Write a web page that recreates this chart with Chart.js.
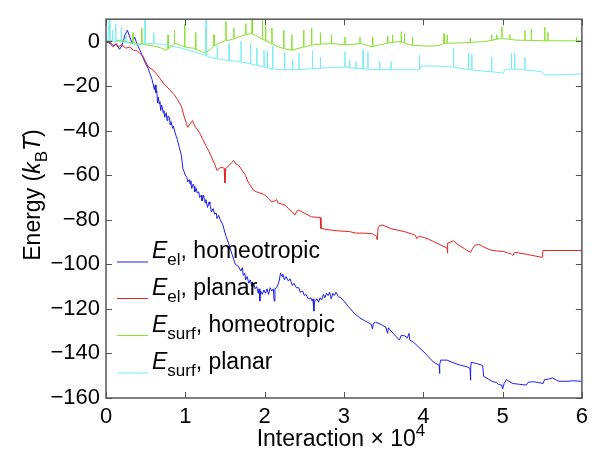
<!DOCTYPE html>
<html>
<head>
<meta charset="utf-8">
<script src="https://cdn.jsdelivr.net/npm/chart.js@4.4.1/dist/chart.umd.min.js"></script>
<style>
  html, body { margin: 0; padding: 0; background: #fff; }
  #wrap { width: 594px; height: 454px; }
</style>
</head>
<body>
<div id="wrap"><canvas id="energy" width="594" height="454"></canvas></div>
<script>
"use strict"
// Tick values
const xTicks = [0, 1, 2, 3, 4, 5, 6];
const yTicks = [0, -20, -40, -60, -80, -100, -120, -140, -160];

// E_el, homeotropic (blue)
const elHomeoX = [0, 0.05, 0.1, 0.13, 0.17, 0.2, 0.24, 0.27, 0.3, 0.33, 0.36, 0.38, 0.4, 0.43, 0.46, 0.5, 0.53, 0.55, 0.58, 0.61,
  0.62, 0.63, 0.64, 0.65, 0.66, 0.67, 0.68, 0.69, 0.7, 0.71, 0.72, 0.73, 0.74, 0.76, 0.77, 0.78, 0.8, 0.81, 0.82, 0.84,
  0.85, 0.88, 0.9, 0.92, 0.95, 0.97, 1.0, 1.02, 1.03, 1.05, 1.06, 1.07, 1.08, 1.1, 1.11, 1.12, 1.14, 1.15, 1.17, 1.18,
  1.2, 1.21, 1.23, 1.25, 1.26, 1.28, 1.3, 1.31, 1.33, 1.35, 1.37, 1.39, 1.4, 1.42, 1.44, 1.47, 1.51, 1.55, 1.59, 1.63,
  1.67, 1.7, 1.72, 1.73, 1.75, 1.76, 1.78, 1.8, 1.82, 1.84, 1.86, 1.88, 1.9, 1.92, 1.93, 1.94, 1.95, 1.97, 1.99, 2.01,
  2.03, 2.05, 2.07, 2.09, 2.11, 2.12, 2.13, 2.15, 2.18, 2.2, 2.22, 2.23, 2.25, 2.27, 2.3, 2.32, 2.35, 2.37, 2.4, 2.43,
  2.45, 2.48, 2.5, 2.52, 2.55, 2.58, 2.6, 2.61, 2.62, 2.63, 2.66, 2.68, 2.7, 2.72, 2.74, 2.76, 2.78, 2.8, 2.82, 2.84,
  2.86, 2.88, 2.9, 2.93, 2.96, 3.0, 3.05, 3.13, 3.2, 3.27, 3.34, 3.36, 3.37, 3.4, 3.47, 3.53, 3.55, 3.56, 3.62, 3.7,
  3.72, 3.76, 3.8, 3.82, 3.83, 3.88, 3.95, 4.01, 4.05, 4.13, 4.2, 4.205, 4.21, 4.22, 4.3, 4.4, 4.47, 4.55, 4.59, 4.595,
  4.6, 4.605, 4.67, 4.74, 4.75, 4.76, 4.82, 4.88, 4.92, 4.95, 4.99, 5.0, 5.02, 5.05, 5.08, 5.13, 5.2, 5.3, 5.32, 5.38,
  5.45, 5.51, 5.53, 5.58, 5.63, 5.68, 5.71, 5.8, 5.9, 6.0];
const elHomeoY = [0, -0.5, -2, -1, -3.5, -2, 3, 5, 2, -1, 2, 0, -2, -4, -6.7, -10, -12, -14, -17, -21.6,
  -19.5, -23, -22, -27.6, -25, -28, -27, -31, -28.5, -29.5, -32, -31, -34, -32, -35.5, -33.5, -34, -37.5, -36, -39,
  -38, -42, -44, -47, -51, -57, -60, -61, -63, -62, -64, -62.5, -66, -64, -65, -67.5, -66, -68, -67.5, -70,
  -69, -71.5, -69, -72.5, -71, -74.5, -72, -73, -76.5, -75, -77.5, -77, -79.5, -78, -80, -82, -87, -91, -95.6, -100,
  -101, -103, -101.5, -105, -104, -107, -105.5, -108.5, -107, -110, -108.5, -111, -110, -113, -111, -116.5, -112, -113.5, -111.5, -113,
  -111, -113.5, -110.5, -112, -111, -116.5, -111, -110.5, -108, -104, -105.5, -104.5, -107, -105.5, -107.5, -106.5, -109.5, -108.5, -110.5, -110.5,
  -112.5, -112, -114, -113.5, -115.5, -115, -116.5, -115.5, -121, -116.5, -115.5, -117, -115, -116, -113.5, -115, -113, -114, -112.5, -115.5,
  -113, -114, -112.5, -114.5, -115, -116.5, -118.7, -122, -124, -125.5, -126.8, -129, -126.5, -126, -127, -128.3, -131, -128.5, -131, -134,
  -132, -132, -133, -131, -134, -135, -137.5, -139.4, -141, -143.9, -145.3, -149, -145, -143, -143, -144.5, -145.3, -146, -146.7, -152,
  -146.5, -144, -144.5, -145.3, -145.5, -150.2, -151.5, -152.7, -153, -154, -154.2, -156, -153.5, -151.7, -152.5, -153.5, -153.8, -154.2, -153, -152.7,
  -153, -153.5, -151.7, -151.5, -151, -152, -152.5, -152.5, -152.3, -152.5];

// E_el, planar (red)
const elPlanarX = [0, 0.05, 0.09, 0.12, 0.15, 0.2, 0.25, 0.3, 0.35, 0.38, 0.42, 0.47, 0.5, 0.53, 0.58, 0.63, 0.68, 0.72, 0.76, 0.8,
  0.86, 0.9, 0.95, 0.98, 1.01, 1.03, 1.06, 1.09, 1.12, 1.15, 1.18, 1.22, 1.26, 1.3, 1.34, 1.37, 1.4, 1.43, 1.47, 1.49,
  1.5, 1.51, 1.55, 1.58, 1.61, 1.64, 1.675, 1.72, 1.76, 1.79, 1.82, 1.86, 1.9, 1.97, 2.01, 2.05, 2.09, 2.13, 2.15, 2.17,
  2.22, 2.26, 2.3, 2.35, 2.38, 2.41, 2.43, 2.5, 2.59, 2.7, 2.71, 2.8, 2.93, 3.07, 3.15, 3.25, 3.36, 3.41, 3.42, 3.43,
  3.45, 3.49, 3.59, 3.76, 3.85, 3.9, 3.92, 3.95, 4.05, 4.13, 4.2, 4.3, 4.305, 4.31, 4.38, 4.45, 4.52, 4.57, 4.6, 4.62,
  4.65, 4.7, 4.76, 4.84, 4.92, 5.01, 5.06, 5.11, 5.13, 5.15, 5.17, 5.3, 5.4, 5.5, 5.51, 6.0];
const elPlanarY = [0, -1, -2.4, -1, -2.5, -1.5, -3, -2.5, -4, -3.9, -5, -6.8, -9, -11.3, -12.5, -14.2, -16.5, -18.7, -20, -21.6,
  -23.9, -26, -29, -33, -36.4, -38.5, -37, -35.5, -38, -39.4, -41, -44, -46.8, -49.5, -52.7, -55, -57.9, -56.8, -56.4, -57,
  -63.5, -57, -55.7, -54.5, -53.5, -55, -55.7, -58, -60.1, -63, -64.6, -66.8, -67.5, -68.3, -69, -70.5, -72, -71.5, -71, -72.5,
  -73, -73.5, -75, -76.5, -77.9, -76, -75.7, -77, -78.7, -79, -83.9, -84.5, -85, -85.3, -86, -86, -86.3, -87.5, -89, -83.6,
  -82.6, -82.4, -84, -85.3, -86.3, -87, -88.5, -87.3, -88.5, -89.8, -91, -92.7, -95, -90.5, -89.5, -91.5, -93, -94.2, -94.5, -93,
  -91.5, -91, -92.2, -93.5, -94, -94.2, -94.8, -95.4, -96, -94.8, -94.7, -95.5, -96.2, -96.9, -93.8, -93.8];

// E_surf, homeotropic (green)
const surfHomeoX = [0, 0.05, 0.1, 0.15, 0.2, 0.25, 0.3, 0.34, 0.342, 0.345, 0.4, 0.45, 0.452, 0.455, 0.5, 0.6, 0.7, 0.76, 0.78, 0.782,
  0.785, 0.84, 0.86, 0.862, 0.865, 0.88, 0.94, 0.99, 0.992, 0.995, 1.05, 1.1, 1.13, 1.132, 1.135, 1.2, 1.26, 1.262, 1.265, 1.33,
  1.36, 1.362, 1.365, 1.42, 1.5, 1.51, 1.512, 1.515, 1.55, 1.61, 1.612, 1.615, 1.675, 1.76, 1.762, 1.765, 1.82, 1.84, 1.842, 1.845,
  1.9, 1.97, 1.972, 1.975, 2.01, 2.012, 2.015, 2.09, 2.092, 2.095, 2.17, 2.24, 2.242, 2.245, 2.34, 2.342, 2.345, 2.49, 2.492, 2.495,
  2.59, 2.592, 2.595, 2.7, 2.702, 2.705, 2.84, 2.842, 2.845, 2.95, 3.01, 3.012, 3.015, 3.1, 3.2, 3.202, 3.205, 3.3, 3.36, 3.362,
  3.365, 3.45, 3.55, 3.552, 3.555, 3.61, 3.612, 3.615, 3.67, 3.72, 3.722, 3.725, 3.76, 3.762, 3.765, 3.84, 3.86, 3.862, 3.865, 4.09,
  4.2, 4.26, 4.262, 4.265, 4.3, 4.302, 4.305, 4.5, 4.59, 4.592, 4.595, 4.76, 4.86, 4.862, 4.865, 4.925, 4.927, 4.93, 4.97, 4.99,
  4.992, 4.995, 5.09, 5.092, 5.095, 5.17, 5.28, 5.282, 5.285, 5.36, 5.362, 5.365, 5.53, 5.532, 5.535, 5.57, 5.572, 5.575, 5.75, 5.93,
  5.932, 5.935, 6.0];
const surfHomeoY = [0, 0.5, 0, 0.5, 0.5, 0, -0.5, -0.5, 4, -0.5, -1, -1.2, 6, -1.2, -1.5, -2, -3, -3.9, -3.5, 3,
  -3.3, -1.5, -1, 5, -1, -0.9, -1.8, -2.4, 8, -2.4, -2.8, -3, -3.5, 4, -3.6, -4.5, -5.3, 6, -5, -3,
  -2, 3, -2, -0.9, 0.3, 0.4, 9, 0.5, 0.5, 1.2, 6, 1.3, 2.1, 3, 8, 3, 3.6, 3.5, 10, 3.4,
  2.5, 1, 10, 1, 0.5, 7, 0.4, -1, 6, -1, -2.4, -3.2, 5, -3.3, -3.9, 3, -3.9, -2.5, 5, -2.5,
  -1.6, 6, -1.6, -1.2, 4, -1.2, -0.9, 3, -0.9, -1.3, -1.5, 2, -1.5, -1.3, -0.9, 2, -0.9, -1.8, -2.4, 2,
  -2.3, -1.5, -0.8, 2.5, -0.7, -0.5, 3, -0.4, -0.1, -0.3, 4.4, -0.3, -0.6, 3.5, -0.7, -1.6, -1.7, 2, -1.7, -2.1,
  -1.8, -0.9, 3.5, -0.9, -0.8, 3, -0.8, -0.6, -0.4, 1.5, -0.4, -0.1, 0.5, 3, 0.5, 1, 3, 1, 1.3, 1.3,
  6.5, 1.3, 1, 3, 1, 0.6, 0.5, 5, 0.5, 0.5, 5.5, 0.5, 0.3, 6.5, 0.3, 0.3, 4, 0.3, 0.3, 0.3,
  2, 0.3, 0.3];

// E_surf, planar (cyan)
const surfPlanarX = [0, 0.02, 0.04, 0.05, 0.08, 0.082, 0.085, 0.12, 0.122, 0.125, 0.19, 0.192, 0.195, 0.25, 0.252, 0.255, 0.41, 0.49, 0.492, 0.495,
  0.6, 0.602, 0.605, 0.7, 0.88, 1.0, 1.17, 1.26, 1.262, 1.265, 1.3, 1.4, 1.402, 1.405, 1.42, 1.55, 1.552, 1.555, 1.675, 1.7,
  1.702, 1.705, 1.82, 1.822, 1.825, 1.88, 1.9, 1.902, 1.905, 1.99, 1.992, 1.995, 2.03, 2.032, 2.035, 2.1, 2.102, 2.105, 2.17, 2.25,
  2.252, 2.255, 2.35, 2.352, 2.355, 2.43, 2.432, 2.435, 2.6, 2.602, 2.605, 2.68, 2.7, 2.702, 2.705, 2.9, 3.01, 3.012, 3.015, 3.07,
  3.072, 3.075, 3.15, 3.152, 3.155, 3.24, 3.242, 3.245, 3.3, 3.302, 3.305, 3.43, 3.45, 3.452, 3.455, 3.59, 3.592, 3.595, 3.95, 3.952,
  3.955, 3.97, 4.2, 4.34, 4.38, 4.382, 4.385, 4.57, 4.572, 4.575, 4.61, 4.612, 4.615, 4.86, 4.862, 4.865, 5.01, 5.03, 5.11, 5.112,
  5.115, 5.15, 5.152, 5.155, 5.28, 5.282, 5.285, 5.49, 5.53, 5.7, 6.0];
const surfPlanarY = [0, 0, 10, 0, 0, 5, 0, 0, 8, 0, -0.3, 6, -0.3, -0.5, 3, -0.5, -1.6, -1, 10, -1,
  -1, 4, -1, -1.2, -2.4, -3.5, -5.3, -6.3, 10, -6.3, -7, -7.8, -2, -7.8, -8, -8.5, -1, -8.5, -9, -9.2,
  0, -9.2, -10, -0.9, -10, -10.5, -10.7, -3, -10.7, -11.5, -3.9, -11.5, -11.8, -3.9, -11.8, -12.2, -2, -12.2, -12.7, -12.7,
  -5, -12.7, -12.7, -8, -12.7, -12.7, -5.3, -12.7, -12.2, -4, -12.2, -12, -12, -7, -12, -11.6, -11.5, -4.6, -11.5, -11.8,
  -8.3, -11.8, -12, -9, -12, -12.2, -3.9, -12.2, -12.4, -4.6, -12.4, -12.7, -12.7, -9, -12.7, -12.7, -9, -12.7, -12.7, -6.1,
  -12.7, -11, -11.1, -11.3, -11.5, -3.1, -11.5, -12.6, -5.3, -12.6, -12.8, -5.8, -12.8, -13.6, -7.1, -13.6, -14.2, -12.5, -12.4, -5.3,
  -12.4, -12.4, -5.3, -12.4, -12.8, -7.1, -12.8, -13.5, -15, -15, -14.5];

const seriesColors = ['rgb(30,30,235)', 'rgb(225,35,35)', 'rgb(135,225,45)', 'rgb(120,238,242)'];
const FONT = '"Liberation Sans", Arial, Helvetica, sans-serif';
const AXIS_COLOR = '#555555';

function toPoints(xs, ys) {
  return xs.map((x, i) => ({x: x, y: ys[i]}));
}

// draws a piece of text with italic / sub / superscript parts
function richText(ctx, parts, x, y, size) {
  parts.forEach(p => {
    const s = (p.sub || p.sup) ? Math.round(size * 0.72) : size;
    ctx.font = (p.italic ? 'italic ' : '') + s + 'px ' + FONT;
    const dy = p.sub ? size * 0.32 : (p.sup ? -size * 0.45 : 0);
    ctx.fillText(p.t, x, y + dy);
    x += ctx.measureText(p.t).width;
  });
  return x;
}
function richWidth(ctx, parts, size) {
  let w = 0;
  parts.forEach(p => {
    const s = (p.sub || p.sup) ? Math.round(size * 0.72) : size;
    ctx.font = (p.italic ? 'italic ' : '') + s + 'px ' + FONT;
    w += ctx.measureText(p.t).width;
  });
  return w;
}

const legendLabels = [
  [{t: 'E', italic: true}, {t: 'el', sub: true}, {t: ', homeotropic'}],
  [{t: 'E', italic: true}, {t: 'el', sub: true}, {t: ', planar'}],
  [{t: 'E', italic: true}, {t: 'surf', sub: true}, {t: ', homeotropic'}],
  [{t: 'E', italic: true}, {t: 'surf', sub: true}, {t: ', planar'}]
];

// Box, inside ticks, legend and axis titles (MATLAB style)
const decorations = {
  id: 'decorations',
  afterDraw(chart) {
    const ctx = chart.ctx;
    const a = chart.chartArea;
    const xs = chart.scales.x, ys = chart.scales.y;
    ctx.save();
    ctx.strokeStyle = AXIS_COLOR;
    ctx.lineWidth = 1.5;
    ctx.strokeRect(a.left, a.top, a.right - a.left, a.bottom - a.top);
    ctx.lineWidth = 1;
    ctx.beginPath();
    xTicks.forEach(t => {
      const px = Math.round(xs.getPixelForValue(t)) + 0.5;
      ctx.moveTo(px, a.bottom); ctx.lineTo(px, a.bottom - 6);
      ctx.moveTo(px, a.top); ctx.lineTo(px, a.top + 6);
    });
    yTicks.forEach(t => {
      const py = Math.round(ys.getPixelForValue(t)) + 0.5;
      ctx.moveTo(a.left, py); ctx.lineTo(a.left + 6, py);
      ctx.moveTo(a.right, py); ctx.lineTo(a.right - 6, py);
    });
    ctx.stroke();

    // legend
    const rows = [262, 298.5, 335.5, 373];
    ctx.textBaseline = 'alphabetic';
    legendLabels.forEach((lab, i) => {
      ctx.strokeStyle = seriesColors[i];
      ctx.beginPath();
      ctx.moveTo(117, rows[i]); ctx.lineTo(148, rows[i]);
      ctx.stroke();
      ctx.fillStyle = '#000';
      richText(ctx, lab, 152, rows[i] - 4, 23);
    });

    // x title
    ctx.fillStyle = '#000';
    const xt = [{t: 'Interaction \u00d7 10'}, {t: '4', sup: true}];
    const xw = richWidth(ctx, xt, 23);
    richText(ctx, xt, 341 - xw / 2, 446, 23);

    // y title
    const yt = [{t: 'Energy ('}, {t: 'k', italic: true}, {t: 'B', sub: true}, {t: 'T', italic: true}, {t: ')'}];
    const yw = richWidth(ctx, yt, 23);
    ctx.translate(40, 195);
    ctx.rotate(-Math.PI / 2);
    richText(ctx, yt, -yw / 2, 0, 23);
    ctx.restore();
  }
};

const dataSets = [
  [elHomeoX, elHomeoY], [elPlanarX, elPlanarY], [surfHomeoX, surfHomeoY], [surfPlanarX, surfPlanarY]
];

new Chart(document.getElementById('energy'), {
  type: 'line',
  data: {
    datasets: dataSets.map((d, i) => ({
      data: toPoints(d[0], d[1]),
      borderColor: seriesColors[i],
      borderWidth: 1,
      pointRadius: 0,
      tension: 0,
      fill: false,
      order: 3 - i
    }))
  },
  options: {
    responsive: false,
    animation: false,
    layout: { padding: { top: 15, right: 8, left: 0, bottom: 0 } },
    plugins: { legend: { display: false }, tooltip: { enabled: false } },
    scales: {
      x: {
        type: 'linear', min: 0, max: 6,
        afterFit(scale) { scale.height = 56; },
        afterBuildTicks(scale) { scale.ticks = xTicks.map(v => ({value: v})); },
        grid: { display: false, drawTicks: false },
        border: { display: false },
        ticks: { padding: 6, color: '#000', font: { size: 22, family: FONT }, maxRotation: 0 }
      },
      y: {
        type: 'linear', min: -160, max: 10,
        afterFit(scale) { scale.width = 106; },
        afterBuildTicks(scale) { scale.ticks = yTicks.map(v => ({value: v})); },
        grid: { display: false, drawTicks: false },
        border: { display: false },
        ticks: {
          padding: 6, color: '#000', font: { size: 22, family: FONT },
          callback: v => v < 0 ? '\u2212' + Math.abs(v) : String(v)
        }
      }
    }
  },
  plugins: [decorations]
});
</script>
</body>
</html>
